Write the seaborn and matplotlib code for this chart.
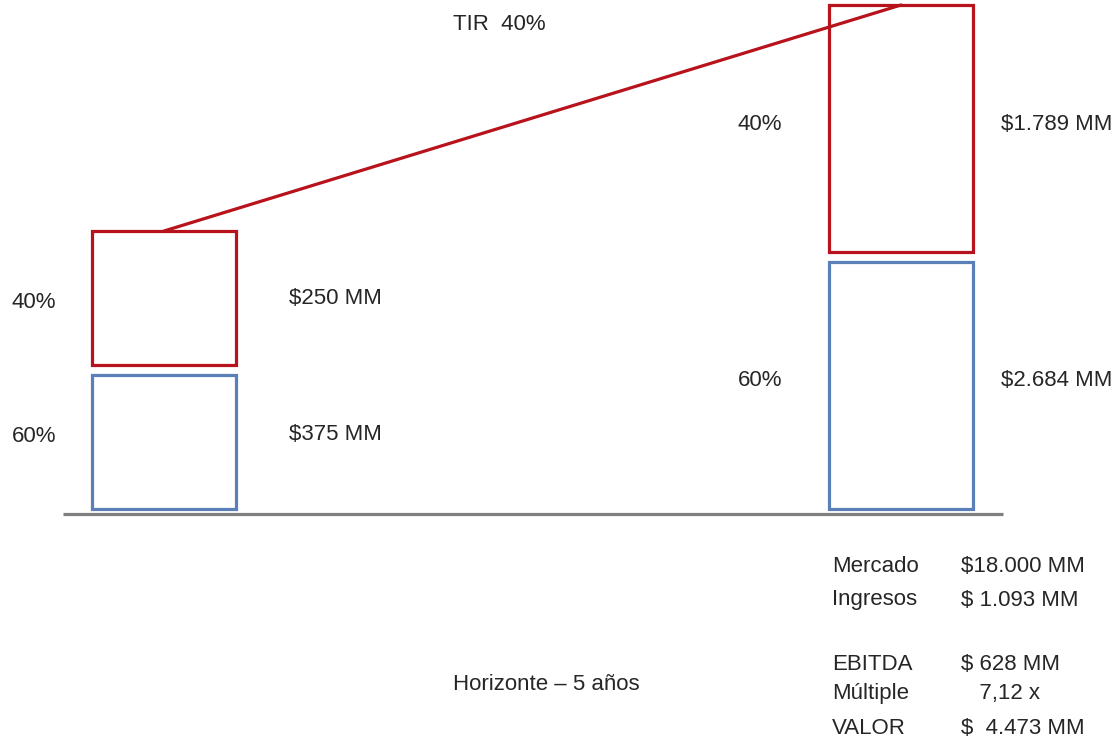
import seaborn as sns
import numpy as np
import matplotlib.pyplot as plt

# two moments: today and after 5 years (boxes are not drawn to scale)
momentos = ["Hoy", "Año 5"]
pct_deuda = ["60%", "60%"]
pct_capital = ["40%", "40%"]
monto_deuda = ["$375 MM", "$2.684 MM"]
monto_capital = ["$250 MM", "$1.789 MM"]
# box heights (arbitrary units)
alto_deuda = [134, 247]
alto_capital = [134, 247]
separacion = 10

tabla_nombres = ["Mercado", "Ingresos", "", "EBITDA", "Múltiple", "VALOR"]
tabla_valores = ["$18.000 MM", "$ 1.093 MM", "", "$ 628 MM", "   7,12 x", "$  4.473 MM"]

rojo = "#B8121C"
azul = "#5B80B8"
gris = "#7F7F7F"
texto = "#262626"

sns.set_theme(style="white")
plt.rcParams["font.family"] = ["Liberation Sans", "DejaVu Sans"]

fig = plt.figure(figsize=(11.19, 7.44), dpi=100)
ax = fig.add_axes([0, 0, 1, 1])

base_capital = np.array(alto_deuda) + separacion
sns.barplot(x=momentos, y=alto_deuda, fill=False, color=azul, linewidth=2.3,
            width=0.195, ax=ax)
sns.barplot(x=momentos, y=alto_capital, bottom=base_capital, fill=False,
            color=rojo, linewidth=2.3, width=0.195, ax=ax)

# line joining the top of both stacks
tope = base_capital + np.array(alto_capital)
sns.lineplot(x=[0, 1], y=tope, color=rojo, linewidth=2.3, ax=ax)

ax.plot([-0.137, 1.138], [-5, -5], color=gris, linewidth=2.3,
        solid_capstyle="butt")

ax.set_xlim(-0.2225, 1.2958)
ax.set_ylim(-235, 509)
ax.axis("off")

fs = 16
def txt(x, y, s, **kw):
    fig.text(x / 1119, 1 - y / 744, s, fontsize=fs, color=texto,
             va="center", **kw)

# left stack labels
txt(12, 302, pct_capital[0])
txt(12, 437, pct_deuda[0])
txt(289, 298, monto_capital[0])
txt(289, 435, monto_deuda[0])
# right stack labels
txt(738, 125, pct_capital[1])
txt(738, 381, pct_deuda[1])
txt(1001, 125, monto_capital[1])
txt(1001, 381, monto_deuda[1])

txt(453, 24, "TIR  40%")
txt(453, 685, "Horizonte – 5 años")

filas_y = [567, 600, 633, 664, 694, 729]
for nombre, valor, yy in zip(tabla_nombres, tabla_valores, filas_y):
    if nombre:
        txt(832, yy, nombre)
        txt(961, yy, valor)

fig.savefig("out.png", dpi=100)
